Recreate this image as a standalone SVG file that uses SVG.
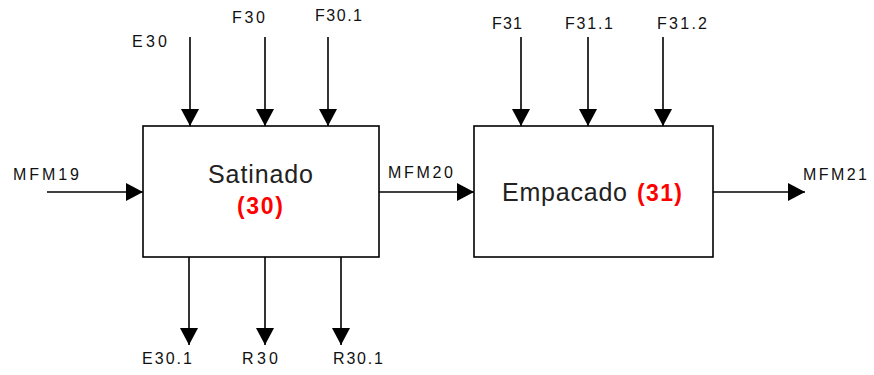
<svg xmlns="http://www.w3.org/2000/svg" width="874" height="375" viewBox="0 0 874 375">
<style>
.box{fill:#fff;stroke:#000;stroke-width:1.6}
.ln{stroke:#000;stroke-width:1.6;fill:none;marker-end:url(#ah)}
.lbl{font-family:"Liberation Sans",Arial,sans-serif;font-size:16px;fill:#111}
.ttl{font-family:"Liberation Sans",Arial,sans-serif;font-size:25px;fill:#222}
.num{font-family:"Liberation Sans",Arial,sans-serif;font-size:23px;font-weight:bold;fill:#ff0000}
</style>
<defs>
<marker id="ah" markerUnits="userSpaceOnUse" markerWidth="18" markerHeight="18" refX="17" refY="9" orient="auto" viewBox="0 0 18 18">
<path d="M0,0 L17,9 L0,18 z" fill="#000"/>
</marker>
</defs>
<rect width="874" height="375" fill="#fff"/>
<g id="connectors">
<line class="ln" x1="190" y1="37" x2="190" y2="126"/>
<line class="ln" x1="265" y1="37" x2="265" y2="126"/>
<line class="ln" x1="328" y1="37" x2="328" y2="126"/>
<line class="ln" x1="521" y1="37" x2="521" y2="126"/>
<line class="ln" x1="588" y1="37" x2="588" y2="126"/>
<line class="ln" x1="663" y1="37" x2="663" y2="126"/>
<line class="ln" x1="189" y1="257" x2="189" y2="345"/>
<line class="ln" x1="265" y1="257" x2="265" y2="345"/>
<line class="ln" x1="341" y1="257" x2="341" y2="345"/>
<line class="ln" x1="47" y1="192" x2="143" y2="192"/>
<line class="ln" x1="379" y1="192" x2="474" y2="192"/>
<line class="ln" x1="713" y1="192" x2="805" y2="192"/>
</g>
<g id="labels">
<text class="lbl" x="132" y="47" textLength="35" lengthAdjust="spacing">E30</text>
<text class="lbl" x="232" y="23" textLength="33" lengthAdjust="spacing">F30</text>
<text class="lbl" x="315" y="21" textLength="47" lengthAdjust="spacing">F30.1</text>
<text class="lbl" x="492" y="29" textLength="30" lengthAdjust="spacing">F31</text>
<text class="lbl" x="565" y="29" textLength="48" lengthAdjust="spacing">F31.1</text>
<text class="lbl" x="657" y="29" textLength="50" lengthAdjust="spacing">F31.2</text>
<text class="lbl" x="13" y="180" textLength="66" lengthAdjust="spacing">MFM19</text>
<text class="lbl" x="388" y="178" textLength="65" lengthAdjust="spacing">MFM20</text>
<text class="lbl" x="803" y="180" textLength="64" lengthAdjust="spacing">MFM21</text>
<text class="lbl" x="142" y="364" textLength="50" lengthAdjust="spacing">E30.1</text>
<text class="lbl" x="242" y="364" textLength="36" lengthAdjust="spacing">R30</text>
<text class="lbl" x="333" y="364" textLength="50" lengthAdjust="spacing">R30.1</text>
</g>
<g id="satinado">
<rect class="box" x="143" y="126" width="236" height="131"/>
<text class="ttl" x="208" y="183" textLength="105" lengthAdjust="spacing">Satinado</text>
<text class="num" x="237" y="214" textLength="46" lengthAdjust="spacing">(30)</text>
</g>
<g id="empacado">
<rect class="box" x="474" y="126" width="239" height="131"/>
<text class="ttl" x="502" y="201" textLength="125" lengthAdjust="spacing">Empacado</text>
<text class="num" x="637" y="201" textLength="45" lengthAdjust="spacing">(31)</text>
</g>
</svg>
